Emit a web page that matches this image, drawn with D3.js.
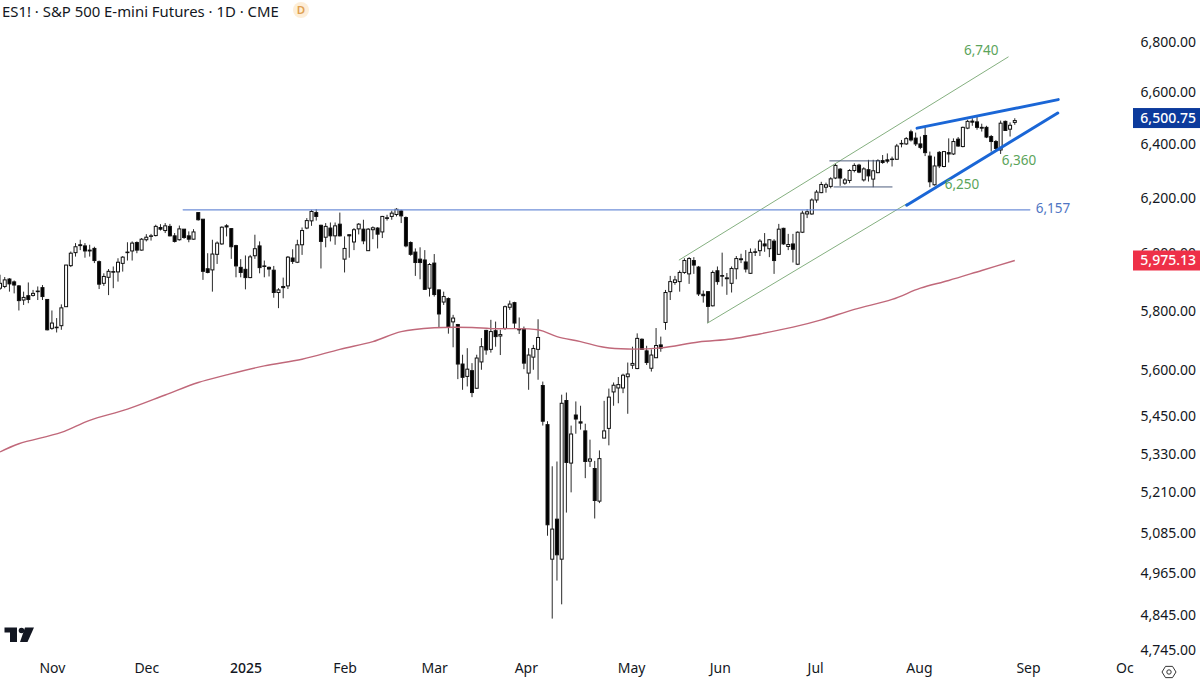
<!DOCTYPE html>
<html>
<head>
<meta charset="utf-8">
<title>ES1! S&P 500 E-mini Futures</title>
<script src="https://cdn.jsdelivr.net/npm/d3@7"></script>
<style>
  html, body { margin: 0; padding: 0; background: #fff; }
  svg { display: block; }
  text { font-family: "Noto Sans", sans-serif; }
</style>
</head>
<body>
<div id="chart"></div>
<script>
// daily candles
const opens = [
  5878,5884,5910,5900,5886,5837,5852,5853,5868,5880,
  5839,5740,5742,5749,5814,5957,6003,6031,6027,6012,
  6018,5971,5895,5916,5936,5935,5965,6005,6009,6039,
  6012,6049,6061,6064,6093,6082,6097,6063,6049,6087,
  6063,6051,6147,6123,5946,5942,5997,6034,6099,6089,
  6028,5951,5944,5915,5992,6027,5956,5951,5941,5863,
  5884,5886,5984,5969,6031,6091,6117,6147,6101,6058,
  6091,6063,6105,5980,6067,6041,6088,6087,6010,6085,
  6091,6077,6128,6133,6140,6153,6129,6039,6005,5980,
  5977,5878,5966,5872,5830,5842,5762,5753,5620,5579,
  5598,5540,5627,5733,5669,5732,5714,5740,5812,5828,
  5737,5738,5590,5643,5669,5549,5422,5007,5127,5007,
  5500,5300,5453,5431,5402,5306,5283,5182,5379,5410,
  5528,5541,5541,5578,5616,5605,5703,5664,5606,5641,
  5684,5760,5866,5898,5901,5933,5928,5975,5952,5857,
  5866,5817,5939,5922,5914,5895,5946,5981,5970,5930,
  6006,6010,6034,6017,6044,5997,6090,6025,6034,5962,
  6076,6142,6142,6193,6220,6240,6243,6274,6307,6255,
  6265,6302,6322,6267,6305,6270,6294,6339,6342,6345,
  6344,6404,6402,6448,6424,6402,6434,6356,6249,6370,
  6317,6369,6364,6420,6392,6462,6489,6486,6465,6465,
  6430,6411,6379,6488,6458,6484
];
const highs = [
  5925,5917,5913,5905,5889,5866,5898,5872,5884,5889,
  5839,5801,5775,5822,5960,6007,6037,6049,6037,6031,
  6024,5975,5930,5945,5954,5983,5991,6040,6043,6043,
  6055,6069,6070,6103,6105,6109,6106,6073,6100,6087,
  6079,6087,6147,6123,6001,6049,6043,6097,6105,6091,
  6031,5980,5993,5995,6067,6043,5975,5954,5956,5878,
  5915,5991,6015,6049,6093,6127,6157,6160,6103,6109,
  6111,6111,6147,6061,6067,6091,6109,6121,6091,6097,
  6094,6135,6139,6154,6163,6157,6133,6043,6018,6022,
  6012,5966,5998,5874,5866,5846,5786,5755,5651,5673,
  5623,5651,5707,5735,5769,5763,5735,5818,5835,5831,
  5777,5746,5673,5684,5771,5562,5433,5290,5305,5519,
  5526,5419,5497,5483,5425,5374,5307,5340,5499,5539,
  5559,5577,5588,5625,5678,5723,5706,5681,5669,5741,
  5712,5872,5921,5921,5940,5983,5987,5987,5956,5870,
  5868,5940,5954,6003,5931,5954,5991,5999,6012,6018,
  6018,6051,6073,6051,6051,6106,6092,6070,6070,6079,
  6154,6160,6199,6230,6260,6257,6277,6329,6311,6274,
  6307,6329,6327,6314,6342,6342,6344,6360,6366,6354,
  6402,6417,6428,6456,6445,6430,6465,6373,6354,6375,
  6375,6423,6423,6428,6468,6494,6500,6509,6479,6471,
  6436,6417,6491,6491,6484,6500
];
const lows = [
  5872,5878,5866,5860,5801,5820,5826,5849,5837,5837,
  5733,5735,5726,5735,5814,5952,5989,6012,5985,5989,
  5966,5875,5886,5854,5878,5901,5936,5975,5975,6001,
  6010,6043,6046,6061,6082,6073,6061,6039,6046,6052,
  6040,6049,6118,5907,5930,5866,5963,6031,6061,5981,
  5916,5916,5874,5913,5981,5930,5916,5919,5845,5809,
  5843,5875,5963,5966,5995,6087,6099,6118,5947,6022,
  6043,6031,6061,5933,5985,6012,6068,6033,6009,6051,
  6018,6055,6118,6121,6133,6109,6022,5992,5921,5909,
  5872,5849,5849,5741,5820,5722,5676,5570,5535,5546,
  5511,5538,5601,5651,5658,5678,5650,5735,5803,5741,
  5721,5603,5535,5601,5568,5419,5077,4834,4944,4875,
  5147,5209,5393,5406,5253,5288,5129,5176,5379,5356,
  5483,5491,5524,5457,5604,5603,5667,5617,5595,5640,
  5661,5735,5837,5890,5866,5928,5893,5928,5851,5828,
  5758,5815,5890,5884,5855,5863,5909,5966,5933,5928,
  5991,5991,6006,5987,5928,5995,6031,6012,5968,5959,
  6073,6127,6139,6183,6218,6220,6236,6270,6245,6249,
  6255,6295,6292,6261,6261,6240,6292,6327,6329,6317,
  6342,6389,6398,6411,6394,6382,6356,6240,6246,6311,
  6314,6332,6360,6391,6389,6458,6471,6456,6449,6424,
  6373,6379,6364,6453,6430,6475
];
const closes = [
  5895,5907,5893,5889,5835,5846,5839,5860,5866,5849,
  5735,5758,5744,5810,5959,6001,6024,6028,6009,6009,
  5975,5892,5919,5937,5934,5969,5987,6003,6037,6012,
  6051,6058,6063,6097,6087,6099,6063,6043,6088,6057,
  6051,6077,6121,5937,5933,5998,6037,6094,6095,6024,
  5956,5933,5915,5988,6017,5950,5954,5945,5863,5872,
  5880,5987,5972,6031,6082,6118,6151,6133,6043,6097,
  6063,6099,6063,6018,6063,6085,6105,6045,6087,6092,
  6069,6133,6126,6145,6159,6135,6027,5997,5968,5968,
  5874,5961,5856,5789,5849,5743,5775,5620,5576,5603,
  5526,5640,5678,5667,5729,5712,5719,5814,5823,5758,
  5735,5623,5650,5672,5709,5433,5110,5097,5020,5491,
  5302,5392,5440,5427,5305,5313,5184,5314,5402,5511,
  5550,5552,5583,5587,5622,5706,5669,5625,5650,5682,
  5673,5863,5901,5907,5933,5975,5982,5959,5858,5852,
  5815,5933,5901,5920,5911,5947,5982,5978,5945,6004,
  6004,6044,6027,6049,5975,6087,6034,6032,6015,6076,
  6145,6150,6193,6222,6250,6249,6271,6321,6274,6267,
  6302,6321,6296,6308,6282,6301,6339,6332,6337,6343,
  6394,6402,6422,6417,6402,6389,6369,6260,6319,6319,
  6373,6364,6411,6394,6465,6488,6485,6465,6462,6428,
  6411,6385,6481,6453,6473,6491
];

// red moving average, read at these bars
const maBars = [0,4,13,19,27,35,42,48,56,64,72,79,85,92,100,104,114,118,123,128,133,140,148,155,161,168,174,181,189,195,201,208,215];
const maValues = [5335,5361,5397,5436,5472,5518,5559,5584,5614,5636,5669,5695,5729,5742,5743,5739,5735,5712,5695,5676,5670,5674,5694,5704,5721,5744,5769,5805,5839,5878,5905,5940,5975.13];

const priceTicks = [6800,6600,6400,6200,6000,5800,5600,5450,5330,5210,5085,4965,4845,4745];
const monthBars = [11,31,52,73,92,111.4,133.7,152.5,172.7,194.7,217.8,238.2];
const monthLabels = ["Nov","Dec","2025","Feb","Mar","Apr","May","Jun","Jul","Aug","Sep","Oc"];

// drawings on the chart: [bar, price] pairs
const trendLines = [
  { a: [143.9, 5977], b: [213.6, 6740], color: "#85b080", w: 1 },
  { a: [149.9, 5758], b: [192.2, 6180], color: "#85b080", w: 1 },
  { a: [38.8, 6157], b: [218.2, 6157], color: "#6f8fd8", w: 1.2 },
  { a: [175.8, 6338], b: [186.4, 6338], color: "#4e5d7e", w: 1 },
  { a: [176.7, 6241], b: [189, 6241], color: "#4e5d7e", w: 1 },
  { a: [194.3, 6462], b: [224.2, 6572], color: "#1a66d6", w: 3 },
  { a: [192.1, 6174], b: [224.1, 6520], color: "#1a66d6", w: 3 }
];
const notes = [
  { bar: 207.9, price: 6762, text: "6,740", color: "#5ba45b" },
  { bar: 215.9, price: 6338, text: "6,360", color: "#5ba45b" },
  { bar: 203.8, price: 6248, text: "6,250", color: "#5ba45b" },
  { bar: 223.1, price: 6160, text: "6,157", color: "#4f76c4" }
];

const lastPrice = 6500.75;
const maLast = 5975.13;

const width = 1200, height = 680;

const x = d3.scaleLinear().domain([0, 254.24]).range([0, width]);
const y = d3.scaleLog().domain([4745, 6800]).range([650, 42]);

const svg = d3.select("#chart")
              .append("svg")
              .attr("width", width)
              .attr("height", height);

svg.append("rect")
   .attr("width", width)
   .attr("height", height)
   .attr("fill", "#fff");

// ---- candles
const bars = d3.range(opens.length);

svg.append("g")
   .selectAll("line")
   .data(bars)
   .enter()
   .append("line")
   .attr("x1", d => x(d))
   .attr("x2", d => x(d))
   .attr("y1", d => y(highs[d]))
   .attr("y2", d => y(lows[d]))
   .attr("stroke", "#2a2a2a")
   .attr("stroke-width", 1);

svg.append("g")
   .selectAll("rect")
   .data(bars)
   .enter()
   .append("rect")
   .attr("x", d => x(d) - 1.5)
   .attr("width", 3)
   .attr("y", d => y(Math.max(opens[d], closes[d])))
   .attr("height", d => Math.abs(y(opens[d]) - y(closes[d])))
   .attr("fill", d => closes[d] < opens[d] ? "#000" : "#fff")
   .attr("stroke", "#111")
   .attr("stroke-width", 1);

// ---- moving average
const maLine = d3.line()
                 .curve(d3.curveCatmullRom.alpha(0.5))
                 .x(d => x(d))
                 .y((d, i) => y(maValues[i]));

svg.append("path")
   .attr("d", maLine(maBars))
   .attr("fill", "none")
   .attr("stroke", "#c0687a")
   .attr("stroke-width", 1.4);

// ---- drawings
svg.append("g")
   .selectAll("line")
   .data(trendLines)
   .enter()
   .append("line")
   .attr("x1", d => x(d.a[0]))
   .attr("y1", d => y(d.a[1]))
   .attr("x2", d => x(d.b[0]))
   .attr("y2", d => y(d.b[1]))
   .attr("stroke", d => d.color)
   .attr("stroke-width", d => d.w)
   .attr("stroke-linecap", "round");

svg.append("g")
   .selectAll("text")
   .data(notes)
   .enter()
   .append("text")
   .attr("x", d => x(d.bar))
   .attr("y", d => y(d.price))
   .attr("text-anchor", "middle")
   .attr("dominant-baseline", "middle")
   .attr("font-size", 13.5)
   .attr("fill", d => d.color)
   .text(d => d.text);

// ---- axes
const yAxis = d3.axisRight(y)
                .tickValues(priceTicks)
                .tickSize(0)
                .tickFormat(d3.format(",.2f"));

const yGroup = svg.append("g")
                  .attr("transform", "translate(1196,0)")
                  .call(yAxis);
yGroup.select(".domain").remove();
yGroup.selectAll("text")
      .attr("x", 0)
      .attr("text-anchor", "end")
      .attr("font-size", 14)
      .attr("font-family", "'Noto Sans', sans-serif")
      .attr("fill", "#131722");

const xAxis = d3.axisBottom(x)
                .tickValues(monthBars)
                .tickSize(0)
                .tickFormat((d, i) => monthLabels[i]);

const xGroup = svg.append("g")
                  .attr("transform", "translate(0,660)")
                  .call(xAxis);
xGroup.select(".domain").remove();
xGroup.selectAll("text")
      .attr("font-size", 14)
      .attr("font-family", "'Noto Sans', sans-serif")
      .attr("font-weight", d => d === 52 ? 500 : 400)
      .attr("fill", "#131722");

// ---- last price tags
const tags = [
  { price: lastPrice, fill: "#0b3a9c" },
  { price: maLast, fill: "#ee3048" }
];

const tagGroup = svg.append("g")
                    .selectAll("g")
                    .data(tags)
                    .enter()
                    .append("g")
                    .attr("transform", d => `translate(1133,${y(d.price)})`);

tagGroup.append("rect")
        .attr("y", -10)
        .attr("width", 67)
        .attr("height", 20)
        .attr("fill", d => d.fill);

tagGroup.append("text")
        .attr("x", 63)
        .attr("dy", "0.35em")
        .attr("text-anchor", "end")
        .attr("font-size", 14)
        .attr("font-weight", 500)
        .attr("fill", "#fff")
        .text(d => d3.format(",.2f")(d.price));

// ---- title and badge
svg.append("text")
   .attr("x", 2)
   .attr("y", 17)
   .attr("font-size", 14.9)
   .attr("fill", "#131722")
   .text("ES1! · S&P 500 E-mini Futures · 1D · CME");

svg.append("circle")
   .attr("cx", 301)
   .attr("cy", 10)
   .attr("r", 8)
   .attr("fill", "#fdeed8");

svg.append("text")
   .attr("x", 301)
   .attr("y", 14)
   .attr("text-anchor", "middle")
   .attr("font-size", 11.5)
   .attr("font-weight", 600)
   .attr("fill", "#e0a050")
   .text("D");

// ---- logo
const logo = svg.append("g").attr("fill", "#131722");
logo.append("path").attr("d", "M4.5 627.5H17V642H10V632.5H4.5Z");
logo.append("circle").attr("cx", 21.5).attr("cy", 630.5).attr("r", 2.8);
logo.append("path").attr("d", "M25 627.5H34L27.5 642H20Z");

// ---- settings icon
const hexPoints = d3.range(6).map(i => {
  const a = Math.PI / 3 * i;
  return [1169 + 7 * Math.cos(a), 672 + 6.5 * Math.sin(a)];
});
svg.append("path")
   .attr("d", d3.line()(hexPoints) + "Z")
   .attr("fill", "none")
   .attr("stroke", "#333")
   .attr("stroke-width", 1);
svg.append("circle")
   .attr("cx", 1169)
   .attr("cy", 672)
   .attr("r", 2.2)
   .attr("fill", "none")
   .attr("stroke", "#333")
   .attr("stroke-width", 1);
</script>
</body>
</html>
